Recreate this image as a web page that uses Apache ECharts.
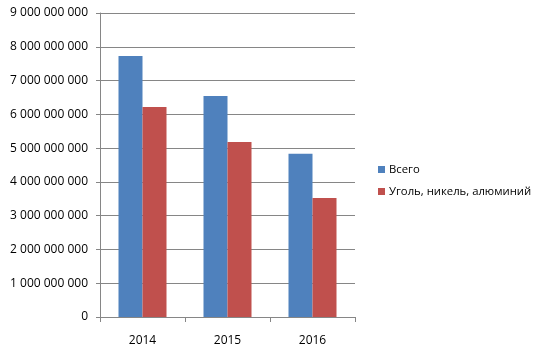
<!DOCTYPE html>
<html><head><meta charset="utf-8">
<script src="https://cdn.jsdelivr.net/npm/echarts@6/dist/echarts.min.js"></script>
<style>html,body{margin:0;padding:0;background:#fff}#c{width:541px;height:357px}</style>
</head><body><div id="c"></div>
<script>
var categories = ['2014', '2015', '2016'];
var seriesNames = ['Всего', 'Уголь, никель, алюминий'];
var totalValues = [7730000000, 6540000000, 4830000000];
var metalValues = [6220000000, 5180000000, 3520000000];

function fmt(v){ return String(Math.round(v)).replace(/\B(?=(\d{3})+(?!\d))/g, ' '); }

var chart = echarts.init(document.getElementById('c'), null, {renderer:'canvas'});
var font = 'Open Sans';
chart.setOption({
  animation:false,
  backgroundColor:'#fff',
  grid:{left:100, right:186, top:13, bottom:40, containLabel:false},
  legend:{
    orient:'vertical', left:373, top:159, itemWidth:7, itemHeight:7, itemGap:11,
    icon:'rect',
    textStyle:{fontFamily:font, fontSize:11.3, color:'#000', padding:[0,0,0,-1]},
    data:seriesNames
  },
  xAxis:{
    type:'category', data:categories,
    axisLine:{lineStyle:{color:'#868686'}},
    axisTick:{show:true, length:5, lineStyle:{color:'#868686'}},
    axisLabel:{fontFamily:font, fontSize:12, color:'#000', margin:18},
    splitLine:{show:false}
  },
  yAxis:{
    type:'value', min:0, max:9000000000, interval:1000000000,
    axisLine:{show:true, lineStyle:{color:'#868686'}},
    axisTick:{show:true, length:4, lineStyle:{color:'#868686'}},
    axisLabel:{fontFamily:font, fontSize:12, color:'#000', margin:12, formatter:fmt},
    splitLine:{show:true, lineStyle:{color:'#868686', width:1}}
  },
  series:[
    {name:seriesNames[0], type:'bar', data:totalValues, barWidth:24, barGap:'0%', itemStyle:{color:'#4F81BD'}},
    {name:seriesNames[1], type:'bar', data:metalValues, barWidth:24, barGap:'0%', itemStyle:{color:'#C0504D'}}
  ]
});
</script></body></html>
